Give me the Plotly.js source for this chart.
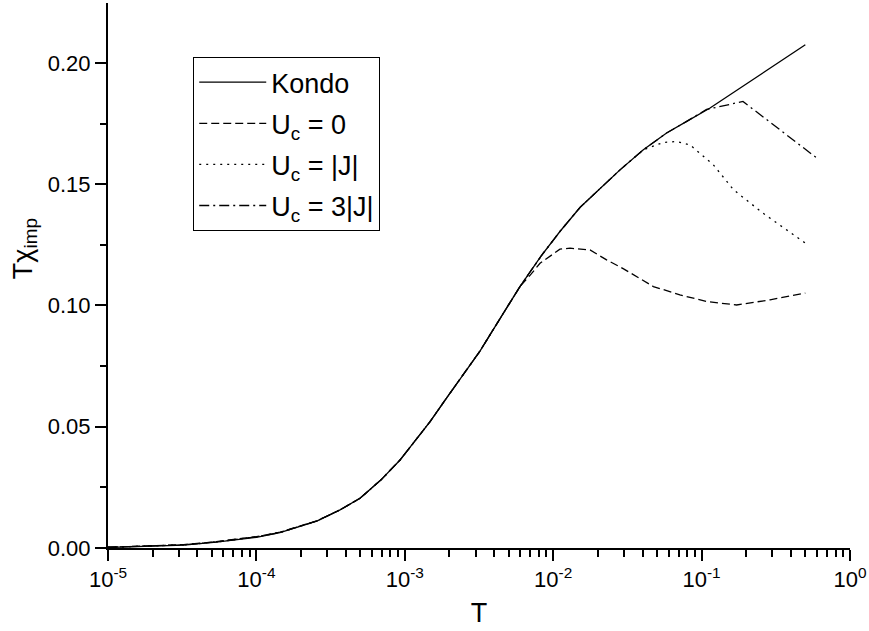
<!DOCTYPE html>
<html>
<head>
<meta charset="utf-8">
<script src="https://cdn.plot.ly/plotly-3.0.1.min.js"></script>
<style>html,body{margin:0;padding:0;background:#fff;}#chart{width:869px;height:631px;}</style>
</head>
<body>
<div id="chart"></div>
<script>
// Kondo
const T_kondo = [1.0e-5, 1.48e-5, 3.24e-5, 5.37e-5, 1.0e-4, 1.44e-4, 2.55e-4, 3.66e-4, 4.99e-4, 6.89e-4, 9.29e-4, 1.14e-3, 1.48e-3, 1.91e-3, 2.48e-3, 3.21e-3, 3.85e-3, 4.61e-3, 5.97e-3, 8.32e-3, 1.11e-2, 1.52e-2, 2.07e-2, 2.82e-2, 4.05e-2, 5.81e-2, 7.94e-2, 0.114, 0.5];
const chi_kondo = [0.0002, 0.0005, 0.0012, 0.0024, 0.0044, 0.0063, 0.0111, 0.0157, 0.0205, 0.0280, 0.0363, 0.0432, 0.0521, 0.0618, 0.0714, 0.0812, 0.0890, 0.0968, 0.1078, 0.1205, 0.1305, 0.1405, 0.1484, 0.1559, 0.1642, 0.1711, 0.1759, 0.1814, 0.2075];
// U_c = 0
const T_u0 = [1.0e-5, 1.48e-5, 3.24e-5, 5.37e-5, 1.0e-4, 1.44e-4, 2.55e-4, 3.66e-4, 4.99e-4, 6.89e-4, 9.29e-4, 1.14e-3, 1.48e-3, 1.91e-3, 2.48e-3, 3.21e-3, 3.85e-3, 4.61e-3, 5.97e-3, 7.0e-3, 8.15e-3, 1.11e-2, 1.30e-2, 1.77e-2, 2.29e-2, 2.96e-2, 3.84e-2, 4.73e-2, 7.14e-2, 0.108, 0.172, 0.289, 0.5];
const chi_u0 = [0.0003, 0.0006, 0.0014, 0.0026, 0.0047, 0.0065, 0.0112, 0.0157, 0.0205, 0.0280, 0.0363, 0.0432, 0.0521, 0.0618, 0.0714, 0.0812, 0.0890, 0.0968, 0.1078, 0.1125, 0.1174, 0.1232, 0.1236, 0.1229, 0.1188, 0.1152, 0.1112, 0.1078, 0.1044, 0.1016, 0.1002, 0.1023, 0.1051];
// U_c = |J|
const T_u1 = [1.0e-5, 1.48e-5, 3.24e-5, 5.37e-5, 1.0e-4, 1.44e-4, 2.55e-4, 3.66e-4, 4.99e-4, 6.89e-4, 9.29e-4, 1.14e-3, 1.48e-3, 1.91e-3, 2.48e-3, 3.21e-3, 3.85e-3, 4.61e-3, 5.97e-3, 8.32e-3, 1.11e-2, 1.52e-2, 2.07e-2, 2.82e-2, 4.05e-2, 5.52e-2, 6.79e-2, 8.36e-2, 0.12, 0.164, 0.26, 0.5];
const chi_u1 = [0.0003, 0.0006, 0.0013, 0.0025, 0.0046, 0.0064, 0.0111, 0.0157, 0.0205, 0.0280, 0.0363, 0.0432, 0.0521, 0.0618, 0.0714, 0.0812, 0.0890, 0.0968, 0.1078, 0.1205, 0.1305, 0.1405, 0.1484, 0.1559, 0.1642, 0.1672, 0.1676, 0.1662, 0.1580, 0.1477, 0.1380, 0.1257];
// U_c = 3|J|
const T_u3 = [1.0e-5, 1.48e-5, 3.24e-5, 5.37e-5, 1.0e-4, 1.44e-4, 2.55e-4, 3.66e-4, 4.99e-4, 6.89e-4, 9.29e-4, 1.14e-3, 1.48e-3, 1.91e-3, 2.48e-3, 3.21e-3, 3.85e-3, 4.61e-3, 5.97e-3, 8.32e-3, 1.11e-2, 1.52e-2, 2.07e-2, 2.82e-2, 4.05e-2, 5.81e-2, 7.94e-2, 0.108, 0.19, 0.6];
const chi_u3 = [0.0003, 0.0006, 0.0013, 0.0025, 0.0046, 0.0064, 0.0111, 0.0157, 0.0205, 0.0280, 0.0363, 0.0432, 0.0521, 0.0618, 0.0714, 0.0812, 0.0890, 0.0968, 0.1078, 0.1205, 0.1305, 0.1405, 0.1484, 0.1559, 0.1642, 0.1711, 0.1759, 0.1808, 0.1841, 0.1607];

const seriesNames = ["Kondo", "U<sub>c</sub> = 0", "U<sub>c</sub> = |J|", "U<sub>c</sub> = 3|J|"];
const xTickVals = [1e-5, 1e-4, 1e-3, 1e-2, 1e-1, 1];
const xTickText = ["10<sup>-5</sup>", "10<sup>-4</sup>", "10<sup>-3</sup>", "10<sup>-2</sup>", "10<sup>-1</sup>", "10<sup>0</sup>"];
const yTickVals = [0, 0.05, 0.10, 0.15, 0.20];
const yTickText = ["0.00", "0.05", "0.10", "0.15", "0.20"];

const minorX = [];
for (let e = -5; e < 0; e++) for (let m = 2; m <= 9; m++) minorX.push(m * Math.pow(10, e));

const font = "Liberation Sans, Arial, sans-serif";
const lw = 1.3;
const dashes = ["solid", "8px,4px", "2px,5px", "10px,4px,2px,4px"];
const xs = [T_kondo, T_u0, T_u1, T_u3];
const ys = [chi_kondo, chi_u0, chi_u1, chi_u3];
const traces = xs.map((x, i) => ({
  x: x, y: ys[i], name: seriesNames[i], mode: "lines", legendgroup: "g" + i,
  line: {color: "#000", width: lw, dash: dashes[i]}
}));

const layout = {
  width: 869, height: 631,
  margin: {l: 108, r: 19, t: 3, b: 83},
  paper_bgcolor: "#fff", plot_bgcolor: "#fff",
  font: {family: font, color: "#000", size: 22},
  showlegend: true,
  legend: {
    x: 0.1146, y: 0.901, xanchor: "left", yanchor: "top",
    bgcolor: "#fff", bordercolor: "#000", borderwidth: 1.2,
    font: {family: font, size: 27, color: "#000"},
    itemwidth: 67, tracegroupgap: 3
  },
  xaxis: {
    type: "log", range: [-5, 0],
    tickmode: "array", tickvals: xTickVals, ticktext: xTickText,
    ticks: "outside", ticklen: 11, tickwidth: 2, tickcolor: "#000",
    showline: true, linecolor: "#000", linewidth: 2,
    showgrid: false, zeroline: false,
    tickfont: {family: font, size: 22, color: "#000"},
    title: {text: "T", font: {family: font, size: 27, color: "#000"}, standoff: 12},
    minor: {tickmode: "array", tickvals: minorX, ticks: "outside", ticklen: 7, tickwidth: 2, tickcolor: "#000", showgrid: false}
  },
  yaxis: {
    range: [0, 0.2247],
    tickmode: "array", tickvals: yTickVals, ticktext: yTickText,
    ticks: "outside", ticklen: 11, tickwidth: 2, tickcolor: "#000",
    showline: true, linecolor: "#000", linewidth: 2,
    showgrid: false, zeroline: false,
    tickfont: {family: font, size: 22, color: "#000"},
    minor: {dtick: 0.025, tick0: 0, ticks: "outside", ticklen: 6, tickwidth: 2, tickcolor: "#000", showgrid: false}
  },
  annotations: [{
    text: "T\u03c7<sub>imp</sub>", textangle: -90,
    xref: "paper", yref: "paper", x: -0.112, y: 0.55,
    xanchor: "center", yanchor: "middle", showarrow: false,
    font: {family: font, size: 27, color: "#000"}
  }]
};

Plotly.newPlot("chart", traces, layout, {staticPlot: true, displayModeBar: false});
</script>
</body>
</html>
